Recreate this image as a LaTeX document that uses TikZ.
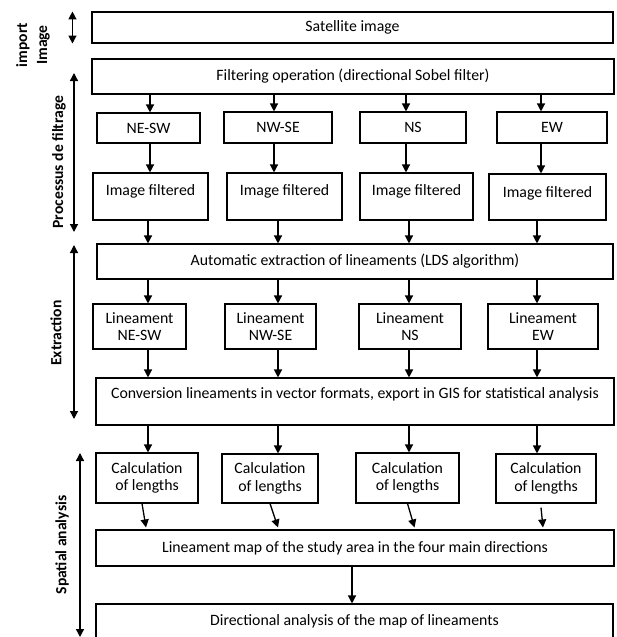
\documentclass[tikz,border=0pt]{standalone}
\usepackage{fontspec}
\setmainfont{Carlito}
\usetikzlibrary{calc}
\usetikzlibrary{arrows.meta}

\begin{document}
\begin{tikzpicture}[x=1pt, y=-1pt,
    box/.style={draw, line width=1.1pt, align=center, inner sep=2pt, font=\fontsize{15.8}{17.5}\selectfont},
    upbox/.style={box, text height=12pt, text depth=#1},
    side/.style={rotate=90, align=center, font=\fontsize{15.6}{20}\selectfont\bfseries},
    arr/.style={-{Triangle[width=8pt,length=8pt]}, line width=1.3pt},
    dbl/.style={{Triangle[width=8pt,length=8pt]}-{Triangle[width=8pt,length=8pt]}, line width=1.3pt}]
    \useasboundingbox (0,0) rectangle (617,637);

    % columns of the vertical arrows
    \coordinate (colA1) at (150,0);
    \coordinate (colA2) at (274,0);
    \coordinate (colA3) at (406,0);
    \coordinate (colA4) at (541,0);
    \coordinate (colB1) at (148,0);
    \coordinate (colB2) at (278,0);
    \coordinate (colB3) at (409,0);
    \coordinate (colB4) at (537,0);

    % main chain
    \node[box, minimum width=521, minimum height=31] (sat) at (352.5,27.5) {Satellite image};
    \node[box, minimum width=522, minimum height=35] (filt) at (353,76.5) {Filtering operation (directional Sobel filter)};

    \node[box, minimum width=103, minimum height=30] (dir1) at (148.5,128) {NE-SW};
    \node[box, minimum width=108, minimum height=31] (dir2) at (278,127.5) {NW-SE};
    \node[box, minimum width=106, minimum height=31] (dir3) at (413,127.5) {NS};
    \node[box, minimum width=110, minimum height=31] (dir4) at (552,127.5) {EW};

    \node[upbox=14pt, minimum width=115, minimum height=47] (img1) at (150.5,196.5) {Image filtered};
    \node[upbox=14pt, minimum width=115, minimum height=47] (img2) at (284.5,196.5) {Image filtered};
    \node[upbox=14pt, minimum width=113, minimum height=47] (img3) at (416.5,196.5) {Image filtered};
    \node[upbox=12pt, minimum width=117, minimum height=46] (img4) at (547.5,197) {Image filtered};

    \node[box, minimum width=516, minimum height=35] (auto) at (355,261.5) {Automatic extraction of lineaments (LDS algorithm)};

    \node[box, minimum width=93, minimum height=45] (lin1) at (139.5,326.5) {Lineament\\NE-SW};
    \node[box, minimum width=91, minimum height=45] (lin2) at (270.5,326.5) {Lineament\\NW-SE};
    \node[box, minimum width=102, minimum height=45] (lin3) at (410,326.5) {Lineament\\NS};
    \node[box, minimum width=110, minimum height=45] (lin4) at (543,326.5) {Lineament\\EW};

    \node[upbox=18pt, minimum width=518, minimum height=47] (conv) at (355,401.5) {Conversion lineaments in vector formats, export in GIS for statistical analysis};

    \node[box, minimum width=102, minimum height=50] (len1) at (147,478) {Calculation\\of lengths};
    \node[box, minimum width=96, minimum height=49] (len2) at (270,478.5) {Calculation\\of lengths};
    \node[box, minimum width=103, minimum height=50] (len3) at (407.5,478) {Calculation\\of lengths};
    \node[box, minimum width=100, minimum height=49] (len4) at (546,478.5) {Calculation\\of lengths};

    \node[box, minimum width=518, minimum height=36] (map) at (355,548) {Lineament map of the study area in the four main directions};
    \node[upbox=16pt, minimum width=517, minimum height=46] (dirana) at (354.5,627) {Directional analysis of the map of lineaments};

    % arrows
    \foreach \i in {1,...,4} {
        \draw[arr] (colA\i |- filt.south) -- (colA\i |- dir\i.north);
        \draw[arr] (colA\i |- dir\i.south) -- (colA\i |- img\i.north);
        \draw[arr] (colB\i |- img\i.south) -- (colB\i |- auto.north);
        \draw[arr] (colB\i |- auto.south) -- (colB\i |- lin\i.north);
        \draw[arr] (colB\i |- lin\i.south) -- (colB\i |- conv.north);
        \draw[arr] (colB\i |- conv.south) -- (colB\i |- len\i.north);
    }
    \draw[arr] ($(len1.south)+(-5,0)$) -- ($(len1.south |- map.north)+(-1,-2)$);
    \draw[arr] (len2.south) -- ($(len2.south |- map.north)+(8,-2)$);
    \draw[arr] (len3.south) -- ($(len3.south |- map.north)+(7,-2)$);
    \draw[arr] ($(len4.south)+(-5,4)$) -- ($(len4.south |- map.north)+(-3,-2)$);
    \draw[arr] ($(map.south)+(-3,0)$) -- ($(map.south |- dirana.north)+(-3,0)$);

    % stages on the left
    \coordinate (procTop) at (74,73);
    \coordinate (procBot) at (74,232);
    \coordinate (extTop) at (74,245);
    \coordinate (extBot) at (74,419);
    \coordinate (spaTop) at (80,453);
    \coordinate (spaBot) at (80,637);
    \draw[dbl] ([xshift=-19pt]sat.north west) -- ([xshift=-19pt]sat.south west);
    \draw[dbl] (procTop) -- (procBot);
    \draw[dbl] (extTop) -- (extBot);
    \draw[dbl] (spaTop) -- (spaBot);
    \node[side] (impLabel) at (33,45) {import\\Image};
    \node[side] (procLabel) at (59,162) {Processus de filtrage};
    \node[side] (extLabel) at (56,333) {Extraction};
    \node[side] (spaLabel) at (62,545) {Spatial analysis};
\end{tikzpicture}
\end{document}
